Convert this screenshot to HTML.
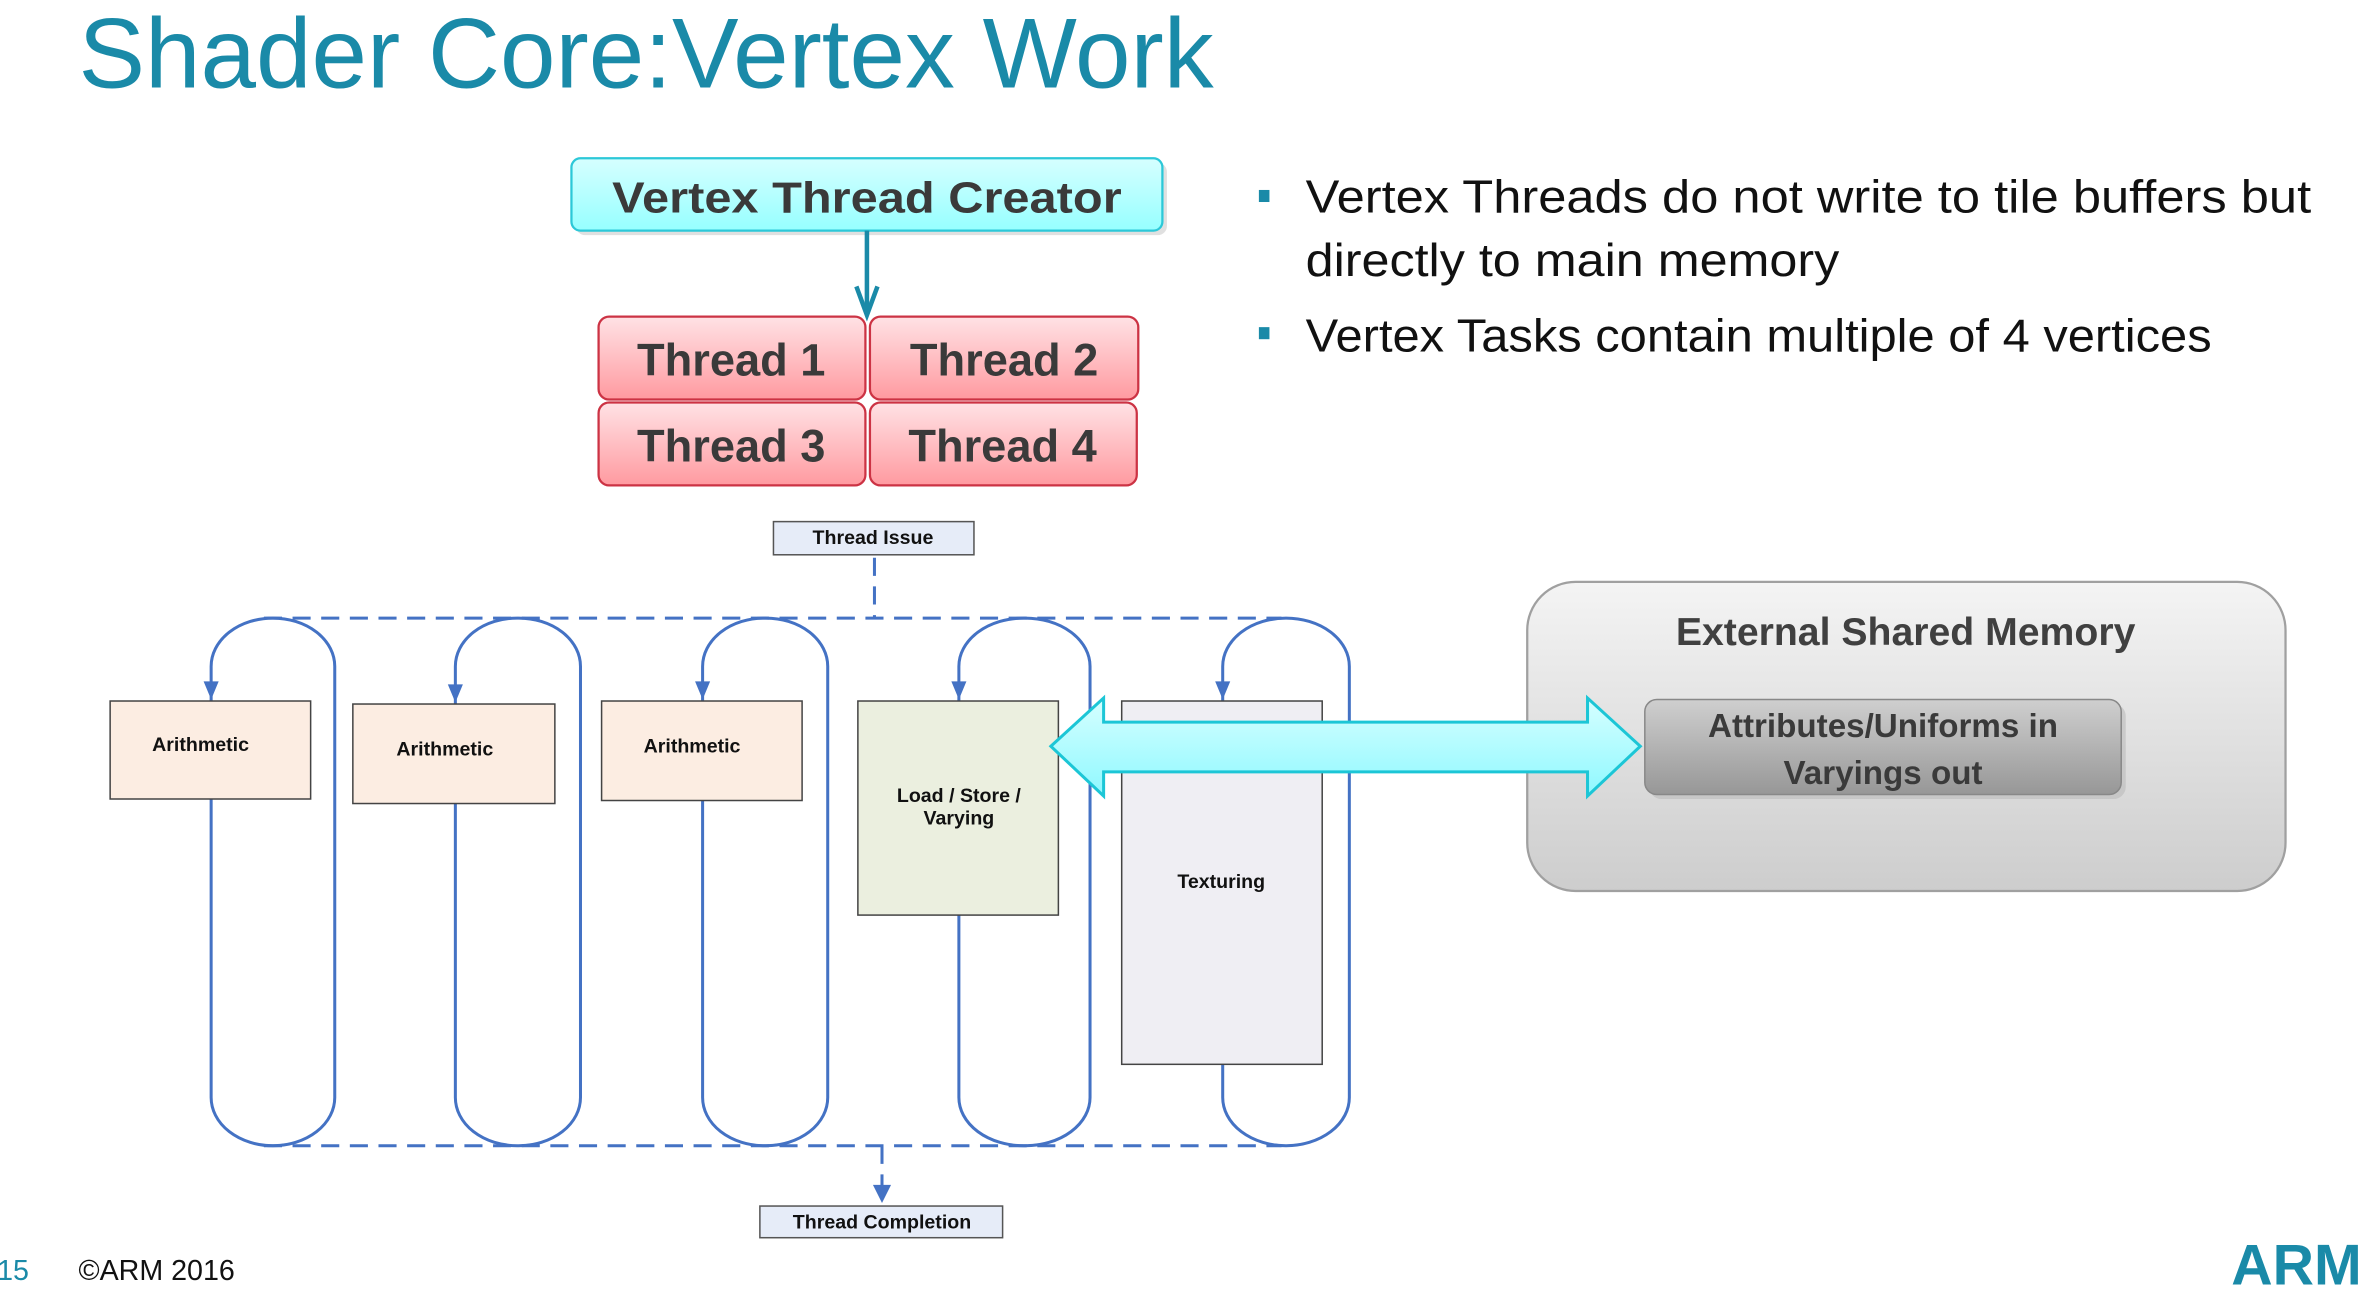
<!DOCTYPE html>
<html><head><meta charset="utf-8"><style>
html,body{margin:0;padding:0;background:#fff;overflow:hidden}
svg{display:block}
</style></head><body>
<svg width="2364" height="1298" viewBox="0 0 1568 861" xmlns="http://www.w3.org/2000/svg" font-family="Liberation Sans, sans-serif">
<defs>
<linearGradient id="cy" x1="0" y1="0" x2="0" y2="1"><stop offset="0" stop-color="#d6ffff"/><stop offset="1" stop-color="#96ffff"/></linearGradient>
<linearGradient id="pk" x1="0" y1="0" x2="0" y2="1"><stop offset="0" stop-color="#ffe2e5"/><stop offset="1" stop-color="#ff9aa0"/></linearGradient>
<linearGradient id="gr" x1="0" y1="0" x2="0" y2="1"><stop offset="0" stop-color="#f4f4f4"/><stop offset="1" stop-color="#cdcdcd"/></linearGradient>
<linearGradient id="gi" x1="0" y1="0" x2="0" y2="1"><stop offset="0" stop-color="#cfcfcf"/><stop offset="1" stop-color="#979797"/></linearGradient>
<linearGradient id="ar" x1="0" y1="0" x2="0" y2="1"><stop offset="0" stop-color="#d6ffff"/><stop offset="1" stop-color="#8ff8ff"/></linearGradient>
<marker id="bh" markerWidth="10" markerHeight="10" refX="5" refY="9" orient="auto" markerUnits="userSpaceOnUse"><path d="M0,0 L5,9 L10,0 L5,3 Z" fill="#4472c4"/></marker>
</defs>

<text x="52" y="58" font-size="66" fill="#1a8aa8" textLength="753" lengthAdjust="spacingAndGlyphs">Shader Core:Vertex Work</text>

<rect x="382" y="108" width="392" height="48" rx="6" fill="#ccc" opacity="0.6"/>
<rect x="379" y="105" width="392" height="48" rx="6" fill="url(#cy)" stroke="#2cc8d8" stroke-width="1.5"/>
<text x="575" y="141" font-size="29" font-weight="bold" fill="#3a3a3a" text-anchor="middle" textLength="338" lengthAdjust="spacingAndGlyphs">Vertex Thread Creator</text>
<line x1="575" y1="153" x2="575" y2="205" stroke="#1a8aa8" stroke-width="3"/>
<path d="M568,190 L575,209 L582,190" fill="none" stroke="#1a8aa8" stroke-width="3"/>

<g stroke="#cc3344" stroke-width="1.5" fill="url(#pk)">
<rect x="397" y="210" width="177" height="55" rx="7"/>
<rect x="577" y="210" width="178" height="55" rx="7"/>
<rect x="397" y="267" width="177" height="55" rx="7"/>
<rect x="577" y="267" width="177" height="55" rx="7"/>
</g>
<g font-size="30" font-weight="bold" fill="#3a3a3a" text-anchor="middle">
<text x="485" y="249">Thread 1</text>
<text x="666" y="249">Thread 2</text>
<text x="485" y="306">Thread 3</text>
<text x="665" y="306">Thread 4</text>
</g>

<rect x="513" y="346" width="133" height="22" fill="#e6ecf8" stroke="#555"/>
<text x="579" y="361" font-size="13" font-weight="bold" text-anchor="middle" fill="#111">Thread Issue</text>

<g stroke="#4472c4" stroke-width="2" fill="none" stroke-dasharray="12 7">
<line x1="580" y1="370" x2="580" y2="410"/>
<line x1="175" y1="410" x2="850" y2="410"/>
<line x1="175" y1="760" x2="850" y2="760"/>
<line x1="585" y1="760" x2="585" y2="790"/>
</g>
<path d="M579,786 L585,798 L591,786 Z" fill="#4472c4"/>

<g stroke="#4472c4" stroke-width="2" fill="none">
<rect x="140" y="410" width="82" height="350" rx="41" ry="32"/>
<rect x="302" y="410" width="83" height="350" rx="41" ry="32"/>
<rect x="466" y="410" width="83" height="350" rx="41" ry="32"/>
<rect x="636" y="410" width="87" height="350" rx="43" ry="32"/>
<rect x="811" y="410" width="84" height="350" rx="42" ry="32"/>
</g>
<g fill="#4472c4">
<path d="M135,452 L140,464 L145,452 Z"/>
<path d="M297,454 L302,466 L307,454 Z"/>
<path d="M461,452 L466,464 L471,452 Z"/>
<path d="M631,452 L636,464 L641,452 Z"/>
<path d="M806,452 L811,464 L816,452 Z"/>
</g>

<g stroke="#444" stroke-width="1">
<rect x="73" y="465" width="133" height="65" fill="#fcede2"/>
<rect x="234" y="467" width="134" height="66" fill="#fcede2"/>
<rect x="399" y="465" width="133" height="66" fill="#fcede2"/>
<rect x="569" y="465" width="133" height="142" fill="#ebefdf"/>
<rect x="744" y="465" width="133" height="241" fill="#efeef3"/>
</g>
<g font-size="13" font-weight="bold" fill="#111" text-anchor="middle">
<text x="133" y="498">Arithmetic</text>
<text x="295" y="501">Arithmetic</text>
<text x="459" y="499">Arithmetic</text>
<text x="636" y="532">Load / Store /</text>
<text x="636" y="547">Varying</text>
<text x="810" y="589">Texturing</text>
</g>

<rect x="504" y="800" width="161" height="21" fill="#e6ecf8" stroke="#555"/>
<text x="585" y="815" font-size="13" font-weight="bold" text-anchor="middle" fill="#111">Thread Completion</text>

<rect x="1013" y="386" width="503" height="205" rx="32" fill="url(#gr)" stroke="#a0a0a0" stroke-width="1.5"/>
<text x="1264" y="428" font-size="26" font-weight="bold" fill="#404040" text-anchor="middle">External Shared Memory</text>
<rect x="1094" y="467" width="316" height="63" rx="8" fill="#bbb" opacity="0.6"/>
<rect x="1091" y="464" width="316" height="63" rx="8" fill="url(#gi)" stroke="#888"/>
<text x="1249" y="489" font-size="22" font-weight="bold" fill="#3a3a3a" text-anchor="middle">Attributes/Uniforms in</text>
<text x="1249" y="520" font-size="22" font-weight="bold" fill="#3a3a3a" text-anchor="middle">Varyings out</text>

<path d="M697,495 L732,463 L732,479 L1053,479 L1053,463 L1088,495 L1053,528 L1053,512 L732,512 L732,528 Z" fill="url(#ar)" stroke="#1cc6d6" stroke-width="2"/>

<rect x="835" y="126" width="7" height="8" fill="#1a8aa8"/>
<rect x="835" y="217" width="7" height="8" fill="#1a8aa8"/>
<g font-size="31" fill="#111">
<text x="866" y="141" textLength="667" lengthAdjust="spacingAndGlyphs">Vertex Threads do not write to tile buffers but</text>
<text x="866" y="183" textLength="354" lengthAdjust="spacingAndGlyphs">directly to main memory</text>
<text x="866" y="233" textLength="601" lengthAdjust="spacingAndGlyphs">Vertex Tasks contain multiple of 4 vertices</text>
</g>

<text x="-2" y="849" font-size="19" fill="#1a8aa8">15</text>
<text x="52" y="849" font-size="19" fill="#111">©ARM 2016</text>
<text x="1480" y="852" font-size="38" font-weight="bold" fill="#1a8aa8">ARM</text>
</svg>
</body></html>
